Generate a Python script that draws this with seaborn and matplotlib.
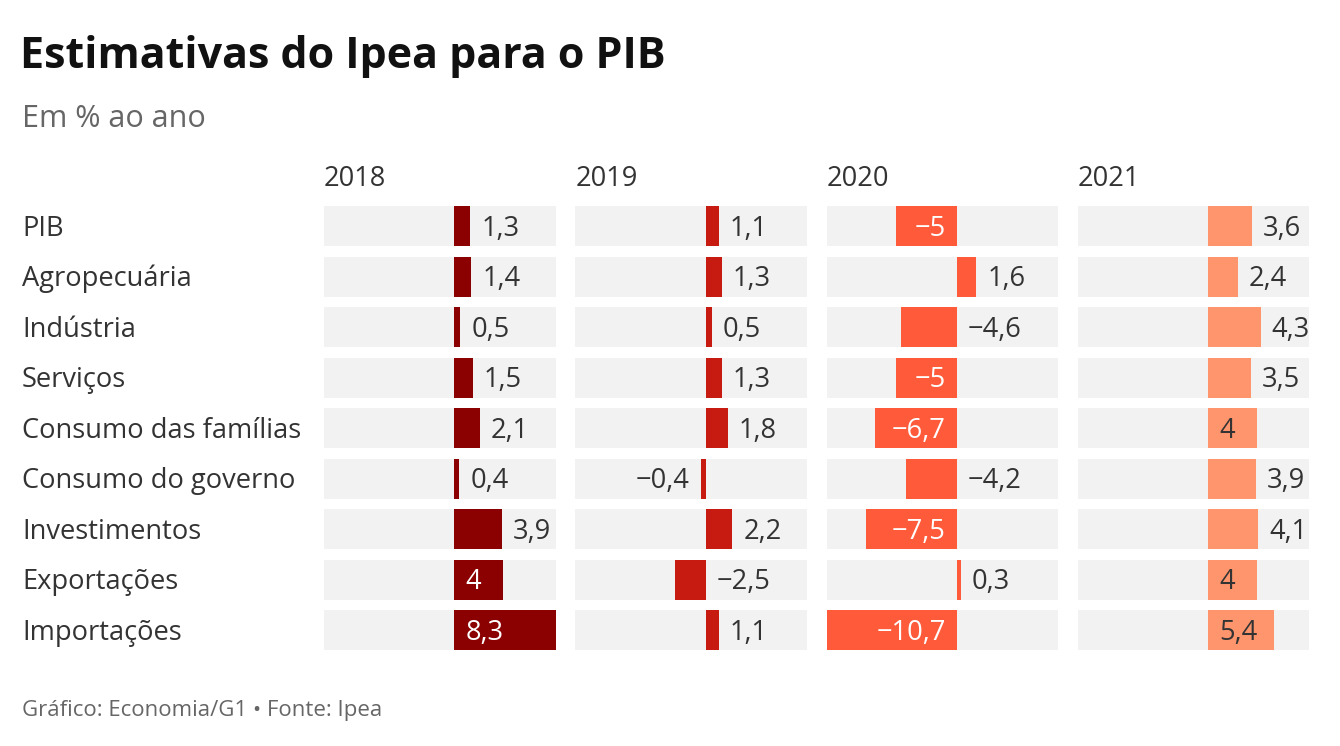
import numpy as np
import pandas as pd
import seaborn as sns
import matplotlib
matplotlib.use("Agg")
import matplotlib.pyplot as plt
from matplotlib.colors import to_rgb

categories = ["PIB", "Agropecuária", "Indústria", "Serviços", "Consumo das famílias",
              "Consumo do governo", "Investimentos", "Exportações", "Importações"]
years = ["2018", "2019", "2020", "2021"]
v2018 = [1.3, 1.4, 0.5, 1.5, 2.1, 0.4, 3.9, 4.0, 8.3]
v2019 = [1.1, 1.3, 0.5, 1.3, 1.8, -0.4, 2.2, -2.5, 1.1]
v2020 = [-5.0, 1.6, -4.6, -5.0, -6.7, -4.2, -7.5, 0.3, -10.7]
v2021 = [3.6, 2.4, 4.3, 3.5, 4.0, 3.9, 4.1, 4.0, 5.4]
series = [v2018, v2019, v2020, v2021]

title = "Estimativas do Ipea para o PIB"
subtitle = "Em % ao ano"
footer = "Gráfico: Economia/G1 • Fonte: Ipea"

colors = ["#8b0000", "#c71a10", "#ff5a3a", "#ff956d"]
BG = "#f2f2f2"
TXT = "#333333"

sns.set_theme(style="white")
plt.rcParams["font.family"] = ["Open Sans", "DejaVu Sans"]

W, H = 1340, 746
fig = plt.figure(figsize=(W / 100, H / 100), dpi=100)
fig.patch.set_facecolor("white")


def fx(px):
    return px / W


def fy(py):
    return 1 - py / H


def fmt(v):
    s = ("%.1f" % abs(v)).rstrip("0").rstrip(".").replace(".", ",")
    return ("−" if v < 0 else "") + s


FS = 19.6
cap_px = 0.714 * FS * 100 / 72

XMIN, XMAX = -10.7, 8.3
panel_left0, panel_w, panel_step = 324, 231.5, 251.3
top_px, bot_px = 206, 650
row_step = 50.5
band = 40 / row_step
pxu = panel_w / (XMAX - XMIN)
pad_px = 11
base_off = (cap_px / 2) / row_step
renderer = fig.canvas.get_renderer()

for i, (yr, vals) in enumerate(zip(years, series)):
    left = panel_left0 + i * panel_step
    ax = fig.add_axes([fx(left), fy(bot_px), panel_w / W, (bot_px - top_px) / H])
    df = pd.DataFrame({"cat": categories, "val": vals})
    sns.barplot(data=df, x="val", y="cat", orient="h", color=colors[i],
                saturation=1, width=band, ax=ax, zorder=2)
    ax.barh(np.arange(len(categories)), XMAX - XMIN, left=XMIN, height=band,
            color=BG, zorder=0, linewidth=0)
    for p in ax.patches:
        p.set_linewidth(0)
    ax.set_xlim(XMIN, XMAX)
    ax.set_ylim(len(categories) - 1 + band / 2, -band / 2)
    ax.axis("off")

    r, g, b = to_rgb(colors[i])
    lum = 0.299 * r + 0.587 * g + 0.114 * b
    inside_color = "white" if lum < 0.6 else TXT
    pad = pad_px / pxu
    for j, v in enumerate(vals):
        lab = fmt(v)
        t = ax.text(0, j + base_off, lab, fontsize=FS, color=TXT, va="baseline")
        tw = t.get_window_extent(renderer).width
        bar_w = abs(v) * pxu
        if tw + 2 * pad_px <= bar_w:
            if v >= 0:
                t.set_x(pad); t.set_ha("left")
            else:
                t.set_x(-pad); t.set_ha("right")
            t.set_color(inside_color)
        else:
            if v >= 0:
                t.set_x(v + pad); t.set_ha("left")
            elif abs(v) >= 1:
                # negative bar: label sits on the empty positive side of zero
                t.set_x(pad); t.set_ha("left")
            else:
                t.set_x(v - pad); t.set_ha("right")

    fig.text(fx(left), fy(186), yr, fontsize=FS, color=TXT, ha="left", va="baseline")

for j, c in enumerate(categories):
    fig.text(fx(22), fy(226 + j * row_step + cap_px / 2), c, fontsize=FS, color=TXT,
             ha="left", va="baseline")

fig.text(fx(20), fy(68), title, fontsize=31, fontweight="bold", color="#111111",
         ha="left", va="baseline")
fig.text(fx(22), fy(127), subtitle, fontsize=22, color="#666666", ha="left", va="baseline")
fig.text(fx(22), fy(716), footer, fontsize=16, color="#666666", ha="left", va="baseline")

fig.savefig("out.png", dpi=100, facecolor="white")
